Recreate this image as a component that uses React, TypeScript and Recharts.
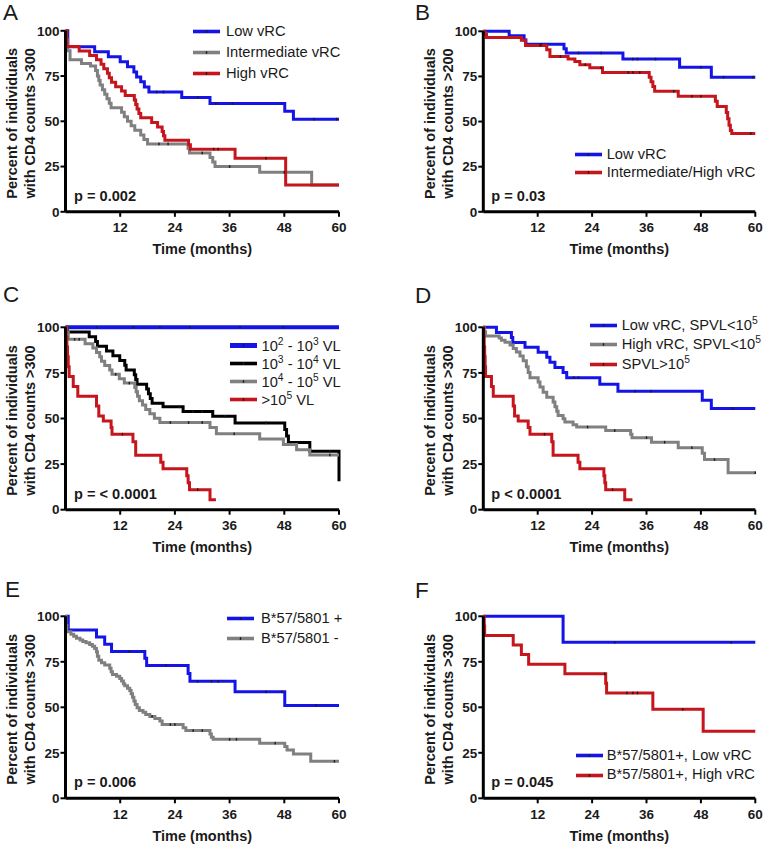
import React from 'react';
import { LineChart, Line, XAxis, YAxis, Legend } from 'recharts';

const FONT = '"Liberation Sans", Arial, Helvetica, sans-serif';
const INK = '#1a1a1a';
const BLUE = '#1414e6';
const GRAY = '#808080';
const RED = '#c4161c';
const BLACK = '#000000';

type Pt = [number, number, number?];

const monthTicks = [12, 24, 36, 48, 60];
const percentTicks = [0, 25, 50, 75, 100];
const xTitle = 'Time (months)';
const yTitleTop = 'Percent of individuals';
const yTitleBottom = ['with CD4 counts >300', 'with CD4 counts >200', 'with CD4 counts >300', 'with CD4 counts >300', 'with CD4 counts >300', 'with CD4 counts >300'];
const panelLetters = ['A', 'B', 'C', 'D', 'E', 'F'];
const pValues = ['p = 0.002', 'p = 0.03', 'p = < 0.0001', 'p < 0.0001', 'p = 0.006', 'p = 0.045'];

// third element = 1 marks a censored observation (tick mark)
const aLow: Pt[] = [[0,100],[0.5,91.2],[6.4,88.4],[9.4,85.6],[12.0,82.9],[13.6,80.1],[15.0,77.3],[15.6,74.5],[16.5,71.8],[17.3,69.0],[18.3,66.2],[20.0,66.2,1],[21.5,66.2,1],[25.5,63.1],[29.0,63.1,1],[31.7,59.8],[33.0,59.8,1],[36.6,59.8,1],[48.1,55.5],[50.0,51.2],[54.5,51.2,1],[59.5,51.2,1],[60,51.2]];
const aInter: Pt[] = [[0,100],[0.2,95],[0.5,89],[1.0,84],[3.5,82],[5.5,80.5],[6.6,78],[7.0,75],[7.3,72.5],[7.6,70],[8.1,67.5],[8.6,65],[9.1,62.5],[9.6,60],[10.0,57.5],[12.3,55],[12.9,52.5],[13.6,50],[14.4,47.5],[15.2,45],[16.5,42.5],[17.2,40],[18.0,37.5],[20.5,37.5,1],[22.5,37.5,1],[26.9,35],[27.2,32.5],[30.0,32.5,1],[31.7,30],[32.3,27.5],[32.8,25],[36.0,25,1],[42.6,21.8],[48.0,21.8,1],[54.0,14.8],[60,14.8]];
const aHigh: Pt[] = [[0,100],[0.3,91.3],[3.0,88.9],[5.3,86.4],[6.8,84],[7.8,81.5],[8.4,79],[9.2,76.5],[9.6,74],[10.1,71.6],[11.0,69.1],[12.3,66.7],[13.1,64.2],[15.1,61.7],[15.4,59.3],[15.7,56.8],[16.1,54.3],[16.5,51.9],[18.9,49.4],[20.2,46.9],[21.2,44.4],[21.5,42],[21.8,39.5],[27.0,37],[27.4,34.6],[32.5,34.6,1],[33.5,34.6,1],[37.2,29.6],[44.0,29.6,1],[48.3,14.8],[60,14.8]];

const bLow: Pt[] = [[0,100],[5.7,97.6],[9.0,95.2],[9.4,92.8],[12.8,92.8,1],[17.8,90.4],[18.3,88],[21,88,1],[26,88,1],[30.8,84.6],[33,84.6,1],[34,84.6,1],[38,84.6,1],[43.3,80.1],[48,80.1,1],[50.3,74.6],[53,74.6,1],[59.5,74.6,1],[60,74.6]];
const bInterHigh: Pt[] = [[0,100],[0.3,98.3],[0.7,96.6],[8.4,95],[9.3,92.2],[12.5,92.2,1],[14.0,89.8],[14.7,86.1],[17,86.1,1],[18.7,84.6],[20.2,83.2],[21.3,81.5],[22.5,81.5,1],[23.5,79.8],[26,79.8,1],[26.3,77.2],[32,77.2,1],[33,77.2,1],[34.5,77.2,1],[36.6,74.6],[37.0,72],[37.4,69.4],[37.8,66.8],[42,66.8,1],[43.0,64],[46,64,1],[48,64,1],[51.2,61.2],[51.6,58.3],[53.6,55],[53.9,51.5],[54.2,48],[54.5,45],[54.8,43.4],[59,43.4,1],[60,43.4]];

const cVL2: Pt[] = [[0,100],[6.8,100,1],[14.9,100,1],[20.7,100,1],[27.3,100,1],[38.3,100,1],[47.8,100,1],[60,100]];
const cVL3: Pt[] = [[0,100],[0.4,97.4],[5.2,94.8],[6.6,92.2],[7.0,89.6],[9.0,87],[10.4,84.4],[11.9,81.8],[13.0,79.2],[13.3,76.6],[15.1,74],[15.4,71.4],[15.7,68.8],[17.8,66.2],[18.2,63.6],[18.6,61],[19.0,58.4],[21.4,56.4],[25,56.4,1],[25.8,53.8],[28,53.8,1],[30,53.8,1],[32.3,51.2],[35,51.2,1],[37.2,47.6],[44,47.6,1],[48.1,44],[48.5,40.4],[48.9,36.8],[53.6,32],[58,32,1],[60,32],[60,15.6]];
const cVL4: Pt[] = [[0,100],[0.3,97.2],[0.6,93.4],[2,93.4,1],[3,93.4,1],[4.3,91],[6.0,88.6],[6.8,86.2],[7.5,83.8],[7.9,81.4],[8.6,79],[9.7,76.6],[10.2,74.2],[11,74.2,1],[11.8,71.8],[12.9,69.4],[14,69.4,1],[15.2,67],[15.5,64.6],[15.8,62.2],[16.2,59.8],[16.9,57.4],[17.6,55],[18.5,52.6],[19.5,50.2],[20.7,47.8],[23,47.8,1],[27,47.8,1],[30,47.8,1],[31.7,45],[33.1,41.6],[37,41.6,1],[42.6,38.8],[47.8,35.8],[50.7,32.8],[53.6,30],[58,30,1],[60,30]];
const cVL5: Pt[] = [[0,100],[0.15,94.6],[0.3,89.2],[0.45,83.8],[0.6,78.4],[0.8,73],[1.7,67.6],[2.7,62.2],[6.8,56.8],[7.3,51.4],[8.3,48.6],[10.0,45],[10.2,41.4],[12.5,41.4,1],[14.8,37.2],[15.4,29.8],[20.9,26],[21.4,22.4],[26.6,18.6],[26.9,14.8],[27.2,11],[29,11,1],[31.7,5.5],[33.0,5.5]];

const dLowSub: Pt[] = [[0,100],[2.9,97.2],[6.2,94.4],[6.5,91.7],[9.2,89],[12.1,86.3],[14,83.6],[14.7,80.8],[15.8,78],[17.6,75.2],[18.4,72.4],[20,72.4,1],[21,72.4,1],[25.7,68.8],[29.7,65],[33.5,65,1],[37,65,1],[48.3,60],[50.3,55.5],[55,55.5,1],[60,55.5]];
const dHighSub: Pt[] = [[0,100],[0.2,97.5],[0.5,95.2],[3.5,94.1],[4.0,92.9],[4.8,91.8],[5.9,90.3],[6.6,88.4],[7.3,86.5],[8.1,84.3],[8.8,81.6],[9.5,78.4],[9.9,75.2],[10.3,72.3],[12.1,70],[12.5,67.3],[13.2,64.4],[14.0,61.6],[15.4,59],[15.8,56.5],[16.2,54],[16.5,51.6],[17.6,49.8],[18.0,48.1],[19.8,46.6],[20.6,45.3],[23,45.3,1],[27.0,43.4],[29,43.4,1],[32.5,41.4],[32.8,39.5],[36,39.5,1],[37.1,37],[40,37,1],[43.0,34],[46,34,1],[48.3,31],[48.8,27.5],[51,27.5,1],[54.0,20.3],[60,20.3,1]];
const dSpvlHigh: Pt[] = [[0,100],[0.1,94.6],[0.2,89.2],[0.3,83.8],[0.4,78.4],[0.5,73],[1.8,67.6],[2.2,62.2],[6.6,56.8],[6.9,51.4],[7.7,48.6],[9.9,45],[10.3,41.4],[13.5,41.4,1],[15.1,37.2],[15.4,29.8],[20.9,26],[21.3,22.4],[26.6,18.6],[26.8,14.8],[27.0,11],[28.5,11,1],[31.2,5.5],[32.9,5.5]];

const eB57pos: Pt[] = [[0,100],[0.6,92.5],[6.8,88.6],[8.6,84.6],[10.1,80.7],[14,80.7,1],[17.4,76.9],[17.8,73],[22,73,1],[26.9,68.6],[27.3,64.3],[29,64.3,1],[32,64.3,1],[33.5,64.3,1],[37.2,58.5],[44,58.5,1],[47.5,58.5,1],[48.1,51],[55,51,1],[60,51]];
const eB57neg: Pt[] = [[0,100],[0.1,95],[0.3,91.5],[1.2,90.2],[1.8,89],[2.4,88],[3.2,87],[3.8,86.2],[4.5,85.4],[5.3,84.5],[5.9,83.5],[6.4,82.3],[6.8,80.5],[7.0,78],[7.3,75.8],[7.9,74.5],[8.6,73.2],[9.7,71.5],[10.0,69.5],[10.3,68],[11.2,67],[11.9,65.8],[12.3,64.5],[12.7,63],[13.0,61.8],[13.6,60.5],[14.1,59.2],[14.4,57.5],[14.7,55.5],[15.0,53.5],[15.3,51.5],[15.7,49.8],[16.2,48.3],[17.0,47.3],[17.6,46],[18.5,45],[19,45,1],[19.6,43.9],[20.7,42.5],[21.2,40.5],[23,40.5,1],[24,40.5,1],[25.8,38.8],[26.4,37.2],[28,37.2,1],[30,37.2,1],[31.7,35.3],[32.0,33.5],[32.4,32.4],[36,32.4,1],[37.5,32.4,1],[42.6,30.3],[46,30.3,1],[48.1,28.5],[48.6,26.5],[50,24.3],[53.8,20.3],[59,20.3,1],[60,20.3]];

const fLow: Pt[] = [[0,100],[17.6,85.7],[29,85.7,1],[54.7,85.7,1],[60,85.7]];
const fHigh: Pt[] = [[0,100],[0.2,94.7],[0.3,89.5],[6.6,84.2],[8.4,79],[10.0,73.7],[18.0,68.4],[26.8,68.4,1],[27.0,63.2],[27.2,57.9],[31.7,57.9,1],[33,57.9,1],[34,57.9,1],[37.4,48.9],[44,48.9,1],[48.5,36.8],[60,36.8]];

const labelsA = ['Low vRC', 'Intermediate vRC', 'High vRC'];
const labelsB = ['Low vRC', 'Intermediate/High vRC'];
const labelsC = ['10^2 - 10^3 VL', '10^3 - 10^4 VL', '10^4 - 10^5 VL', '>10^5 VL'];
const labelsD = ['Low vRC, SPVL<10^5', 'High vRC, SPVL<10^5', 'SPVL>10^5'];
const labelsE = ['B*57/5801 +', 'B*57/5801 -'];
const labelsF = ['B*57/5801+, Low vRC', 'B*57/5801+, High vRC'];

type Series = { label: string; color: string; pts: Pt[]; width: number; legendWidth: number };
type PanelCfg = {
  x: number; y: number; w: number; h: number;
  plotLeft: number; plotTop: number; plotW: number; plotH: number;
  letterX: number; letterBase: number; pX: number; pBase: number;
  legLeft: number; legTop: number; legRow: number; legGap: number;
  series: Series[];
};

const mk = (labels: string[], colors: string[], data: Pt[][], widths?: number[]): Series[] =>
  labels.map((label, i) => ({
    label,
    color: colors[i],
    pts: data[i],
    width: widths ? widths[i] : 3,
    legendWidth: widths && widths[i] > 3 ? 5 : 3.6,
  }));

const panels: PanelCfg[] = [
  { x: 0, y: 0, w: 380, h: 283, plotLeft: 65.5, plotTop: 30.8, plotW: 273.5, plotH: 181,
    letterX: 3, letterBase: 20.7, pX: 74, pBase: 201.5, legLeft: 193, legTop: 21.2, legRow: 20.8, legGap: 6,
    series: mk(labelsA, [BLUE, GRAY, RED], [aLow, aInter, aHigh]) },
  { x: 383, y: 0, w: 382, h: 283, plotLeft: 483.3, plotTop: 31.3, plotW: 272, plotH: 180.5,
    letterX: 415, letterBase: 21.5, pX: 491.3, pBase: 201.5, legLeft: 574.7, legTop: 146.3, legRow: 17.4, legGap: 5,
    series: mk(labelsB, [BLUE, RED], [bLow, bInterHigh]) },
  { x: 0, y: 283, w: 380, h: 280, plotLeft: 65.5, plotTop: 327.3, plotW: 273.5, plotH: 182.4,
    letterX: 3, letterBase: 303.5, pX: 74, pBase: 499.5, legLeft: 229.5, legTop: 336.7, legRow: 18, legGap: 5,
    series: mk(labelsC, [BLUE, BLACK, GRAY, RED], [cVL2, cVL3, cVL4, cVL5], [4, 3, 3, 3]) },
  { x: 383, y: 283, w: 382, h: 280, plotLeft: 483.3, plotTop: 327.3, plotW: 272, plotH: 182.4,
    letterX: 415, letterBase: 304.5, pX: 491.3, pBase: 499, legLeft: 589.7, legTop: 316, legRow: 19.3, legGap: 5,
    series: mk(labelsD, [BLUE, GRAY, RED], [dLowSub, dHighSub, dSpvlHigh]) },
  { x: 0, y: 563, w: 380, h: 283, plotLeft: 65.5, plotTop: 616.3, plotW: 273.5, plotH: 182,
    letterX: 5, letterBase: 598, pX: 74, pBase: 787, legLeft: 227, legTop: 608, legRow: 20, legGap: 7,
    series: mk(labelsE, [BLUE, GRAY], [eB57pos, eB57neg]) },
  { x: 383, y: 563, w: 382, h: 283, plotLeft: 483.3, plotTop: 616.3, plotW: 272, plotH: 182,
    letterX: 415, letterBase: 599.5, pX: 491.3, pBase: 787, legLeft: 575.7, legTop: 745.9, legRow: 19.6, legGap: 4,
    series: mk(labelsF, [BLUE, RED], [fLow, fHigh]) },
];

const YW = 40;
const XH = 30;

const toRows = (pts: Pt[]) => pts.map(([t, s, c]) => ({ t, s, c: c ? 1 : 0 }));

function Censor(props: any) {
  const { cx, cy, payload, index } = props;
  if (!payload || !payload.c || cx == null || cy == null) return <g key={`n${index}`} />;
  return <rect key={`c${index}`} x={cx - 0.7} y={cy - 1.3} width={1.4} height={2.6} fill="#1c1c1c" />;
}

function withSup(label: string) {
  const parts = label.split(/\^(\d+)/);
  return parts.map((p, i) =>
    i % 2 ? (
      <sup key={i} style={{ fontSize: '0.7em', verticalAlign: '0.55em', lineHeight: 0 }}>{p}</sup>
    ) : (
      <React.Fragment key={i}>{p}</React.Fragment>
    )
  );
}

function KMLegend({ items, rowH, gap }: { items: Series[]; rowH: number; gap: number }) {
  return (
    <div style={{ fontFamily: FONT, fontSize: 14.7, color: INK }}>
      {items.map((it) => (
        <div key={it.label} style={{ display: 'flex', alignItems: 'center', height: rowH, whiteSpace: 'nowrap' }}>
          <svg width={27} height={9} style={{ flex: 'none', display: 'block' }}>
            <line x1={0} x2={27} y1={4.5} y2={4.5} stroke={it.color} strokeWidth={it.legendWidth} />
            <rect x={12.8} y={3.2} width={1.4} height={2.6} fill="#1c1c1c" />
          </svg>
          <span style={{ marginLeft: gap, lineHeight: `${rowH}px` }}>{withSup(it.label)}</span>
        </div>
      ))}
    </div>
  );
}

function Panel({ cfg, idx }: { cfg: PanelCfg; idx: number }) {
  const { x, y, w, h, plotLeft, plotTop, plotW, plotH } = cfg;
  const lx = plotLeft - x;
  const ty = plotTop - y;
  const margin = { top: ty, left: lx - YW, right: w - lx - plotW, bottom: h - ty - plotH - XH };
  const cy = ty + plotH / 2 + 2;
  const b1 = lx - 48.5;
  const b2 = lx - 30.5;
  const yTitle = () => (
    <g>
      <text x={b1} y={cy} transform={`rotate(-90 ${b1} ${cy})`} textAnchor="middle" fontFamily={FONT} fontWeight="bold" fontSize={14.5} fill={INK}>
        {yTitleTop}
      </text>
      <text x={b2} y={cy} transform={`rotate(-90 ${b2} ${cy})`} textAnchor="middle" fontFamily={FONT} fontWeight="bold" fontSize={14.5} fill={INK}>
        {yTitleBottom[idx]}
      </text>
    </g>
  );
  const tickStyle = { fontSize: 13.5, fontWeight: 700, fill: INK, fontFamily: FONT };
  return (
    <div style={{ position: 'absolute', left: x, top: y, width: w, height: h }}>
      <LineChart width={w} height={h} margin={margin}>
        <XAxis
          type="number"
          dataKey="t"
          domain={[0, 60]}
          ticks={monthTicks}
          interval={0}
          height={XH}
          tickSize={5}
          tickMargin={6}
          axisLine={{ stroke: '#000', strokeWidth: 3 }}
          tickLine={{ stroke: '#000', strokeWidth: 2 }}
          tick={tickStyle}
          label={{ value: xTitle, position: 'bottom', offset: 2, fontSize: 14.5, fontWeight: 700, fill: INK, fontFamily: FONT }}
        />
        <YAxis
          type="number"
          domain={[0, 100]}
          ticks={percentTicks}
          interval={0}
          width={YW}
          tickSize={5}
          tickMargin={1}
          axisLine={{ stroke: '#000', strokeWidth: 3 }}
          tickLine={{ stroke: '#000', strokeWidth: 2 }}
          tick={tickStyle}
          label={yTitle}
        />
        {cfg.series.map((s) => (
          <Line
            key={s.label}
            data={toRows(s.pts)}
            dataKey="s"
            name={s.label}
            type="stepAfter"
            stroke={s.color}
            strokeWidth={s.width}
            dot={Censor}
            activeDot={false}
            isAnimationActive={false}
          />
        ))}
        <Legend
          layout="vertical"
          align="center"
          verticalAlign="middle"
          content={() => <KMLegend items={cfg.series} rowH={cfg.legRow} gap={cfg.legGap} />}
          wrapperStyle={{ left: cfg.legLeft - x, top: cfg.legTop - y, width: 190, height: cfg.legRow * cfg.series.length }}
        />
      </LineChart>
      <div
        style={{
          position: 'absolute', left: cfg.letterX - x, top: cfg.letterBase - 19.1 - y,
          fontSize: 22.5, lineHeight: '22.5px', fontFamily: FONT, color: INK, whiteSpace: 'nowrap',
        }}
      >
        {panelLetters[idx]}
      </div>
      <div
        style={{
          position: 'absolute', left: cfg.pX - x, top: cfg.pBase - 12.4 - y,
          fontSize: 14.6, lineHeight: '14.6px', fontWeight: 700, fontFamily: FONT, color: INK, whiteSpace: 'nowrap',
        }}
      >
        {pValues[idx]}
      </div>
    </div>
  );
}

export default function App() {
  return (
    <div style={{ position: 'absolute', left: 0, top: 0, width: 765, height: 846, background: '#fff', fontFamily: FONT }}>
      {panels.map((p, i) => (
        <Panel key={i} cfg={p} idx={i} />
      ))}
    </div>
  );
}
